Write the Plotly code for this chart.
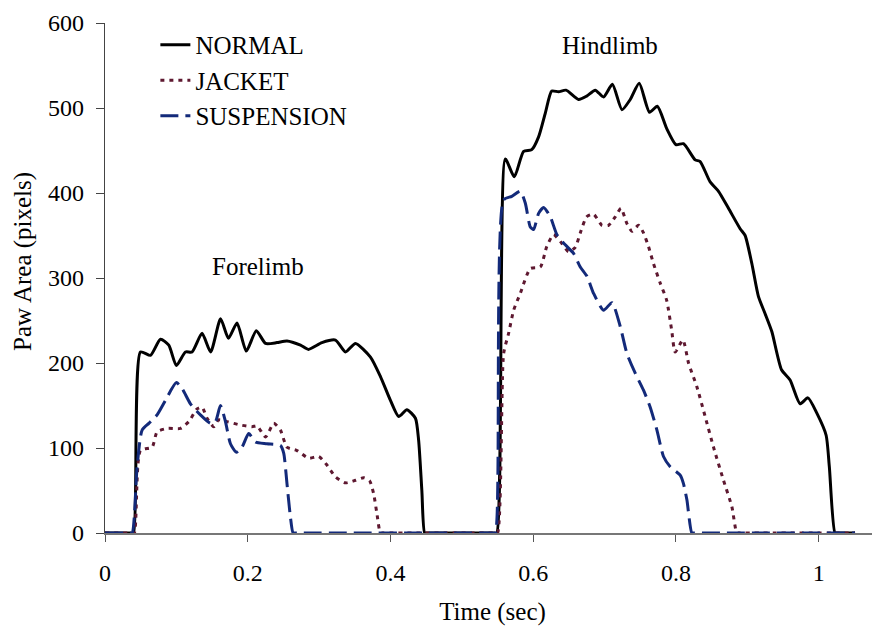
import plotly.graph_objects as go

# ---- data ----
normal_t = [0, 0.036, 0.040, 0.0497, 0.0637, 0.0777, 0.0894, 0.100, 0.1127, 0.122, 0.136, 0.148, 0.162, 0.173,
            0.185, 0.198, 0.212, 0.225, 0.241, 0.255, 0.274, 0.285, 0.304, 0.323, 0.337, 0.351, 0.372, 0.386,
            0.400, 0.4115, 0.423, 0.435, 0.4395, 0.444, 0.448, 0.452,
            0.545, 0.549, 0.561, 0.5735, 0.5866, 0.598, 0.6076, 0.617, 0.626, 0.6356, 0.646, 0.6636, 0.675,
            0.687, 0.6986, 0.711, 0.7244, 0.736, 0.7486, 0.763, 0.774, 0.787, 0.800, 0.8106, 0.827, 0.834,
            0.848, 0.8597, 0.8737, 0.890, 0.897, 0.9064, 0.9157, 0.925, 0.9344, 0.948, 0.960, 0.974, 0.985,
            0.9975, 1.0105, 1.015, 1.023, 1.027, 1.051]
normal_v = [0, 0, 0, 213, 209, 228, 221, 197, 213, 213, 235, 213, 252, 229,
            247, 214, 238, 223, 224, 226, 221, 216, 224, 227, 213, 223, 207, 184,
            156, 137, 145, 135, 109, 50, 0, 0,
            0, 0, 440, 419, 449, 451, 466, 494, 520, 519, 521, 510, 514,
            521, 513, 528, 498, 510, 529, 495, 502, 476, 457, 458, 439, 437,
            413, 402, 382, 358, 350, 317, 278, 258, 237, 192, 180, 152, 159,
            141, 115, 78, 0, 0, 0]

jacket_t = [0, 0.037, 0.041, 0.0497, 0.066, 0.073, 0.087, 0.1057, 0.1174, 0.129, 0.136, 0.143, 0.1524, 0.159,
            0.171, 0.190, 0.206, 0.213, 0.225, 0.2364, 0.2458, 0.255, 0.269, 0.2855, 0.2995, 0.311, 0.323,
            0.337, 0.351, 0.3625, 0.371, 0.3765, 0.381, 0.386, 0.390,
            0.546, 0.550, 0.5586, 0.5656, 0.5726, 0.582, 0.596, 0.610, 0.619, 0.6286, 0.640, 0.6496, 0.659,
            0.666, 0.675, 0.6846, 0.6964, 0.7056, 0.715, 0.723, 0.7314, 0.7384, 0.7476, 0.7546, 0.7616,
            0.7686, 0.778, 0.787, 0.794, 0.799, 0.8098, 0.8177, 0.8294, 0.841, 0.8527, 0.8667, 0.8784,
            0.8854, 0.889, 1.051]
jacket_v = [0, 0, 0, 97, 101, 119, 123, 123, 131, 146, 148, 135, 125, 133,
            131, 127, 125, 126, 113, 129, 121, 101, 97, 88, 90, 80, 66,
            59, 62, 65, 61, 46, 23, 0, 0,
            0, 0, 211, 235, 262, 282, 311, 313, 337, 351, 341, 331, 336,
            353, 372, 375, 362, 362, 372, 382, 364, 355, 362, 353, 337,
            317, 294, 274, 239, 213, 227, 200, 172, 137, 101, 62, 31,
            0, 0, 0]

susp_t = [0, 0.034, 0.038, 0.045, 0.052, 0.0614, 0.073, 0.0847, 0.100, 0.108, 0.1197, 0.1337, 0.1478, 0.1548,
          0.1618, 0.1688, 0.1758, 0.184, 0.192, 0.2014, 0.2108, 0.227, 0.2458, 0.2504, 0.255, 0.2598, 0.2636,
          0.267,
          0.543, 0.547, 0.5586, 0.570, 0.582, 0.589, 0.596, 0.6006, 0.6076, 0.6146, 0.624, 0.6333, 0.645,
          0.6566, 0.666, 0.6754, 0.6846, 0.6986, 0.7104, 0.722, 0.7314, 0.743, 0.7546, 0.764, 0.7734, 0.7826,
          0.792, 0.806, 0.8106, 0.8154, 0.8224, 0.826, 1.051]
susp_v = [0, 0, 0, 78, 121, 129, 139, 156, 177, 170, 152, 139, 129, 131,
          150, 131, 105, 95, 101, 117, 107, 105, 103, 94, 58, 19, 0,
          0,
          0, 0, 392, 396, 402, 388, 360, 357, 376, 383, 372, 351, 339,
          329, 313, 302, 282, 262, 271, 243, 211, 188, 168, 148, 121, 90,
          78, 68, 58, 39, 0, 0, 0]

x_ticks = [0, 0.2, 0.4, 0.6, 0.8, 1]
x_tick_labels = ["0", "0.2", "0.4", "0.6", "0.8", "1"]
y_ticks = [0, 100, 200, 300, 400, 500, 600]

FONT = "Liberation Serif, Times New Roman, serif"

fig = go.Figure()
fig.add_trace(go.Scatter(x=normal_t, y=normal_v, mode="lines", name="NORMAL",
                         line=dict(color="#000000", width=3, shape="spline", smoothing=0.6)))
fig.add_trace(go.Scatter(x=jacket_t, y=jacket_v, mode="lines", name="JACKET",
                         line=dict(color="#5e1830", width=3, dash="4px,5px", shape="spline", smoothing=0.6)))
fig.add_trace(go.Scatter(x=susp_t, y=susp_v, mode="lines", name="SUSPENSION",
                         line=dict(color="#132a7a", width=3, dash="18px,7px", shape="spline", smoothing=0.6)))

fig.add_annotation(x=0.2147, y=313, text="Forelimb", showarrow=False,
                   font=dict(family=FONT, size=25, color="#000"))
fig.add_annotation(x=0.708, y=574, text="Hindlimb", showarrow=False,
                   font=dict(family=FONT, size=25, color="#000"))
fig.add_annotation(xref="paper", yref="paper", x=-0.106, y=0.533, xanchor="center", yanchor="middle",
                   text="Paw Area (pixels)", showarrow=False, textangle=-90,
                   font=dict(family=FONT, size=25, color="#000"))

fig.update_layout(
    width=872, height=624,
    margin=dict(l=97, r=0, t=15, b=99),
    paper_bgcolor="white", plot_bgcolor="white",
    font=dict(family=FONT, size=24, color="#000"),
    showlegend=True,
    legend=dict(x=0.065, y=1.002, xanchor="left", yanchor="top",
                bgcolor="rgba(0,0,0,0)", borderwidth=0,
                font=dict(family=FONT, size=25, color="#000"),
                itemwidth=30, tracegroupgap=0),
    xaxis=dict(range=[0, 1.086], tickvals=x_ticks, ticktext=x_tick_labels,
               showgrid=False, zeroline=False, showline=True, linecolor="#777", linewidth=1.5,
               ticks="outside", ticklen=7, tickcolor="#555", tickwidth=1,
               ticklabelstandoff=10,
               title=dict(text="Time (sec)", font=dict(family=FONT, size=25), standoff=18)),
    yaxis=dict(range=[0, 600], tickvals=y_ticks,
               showgrid=False, zeroline=False, showline=True, linecolor="#444", linewidth=1.2,
               ticks="outside", ticklen=8, tickcolor="#444", tickwidth=1,
               ticklabelstandoff=7),
)

fig.write_html("out.html")
